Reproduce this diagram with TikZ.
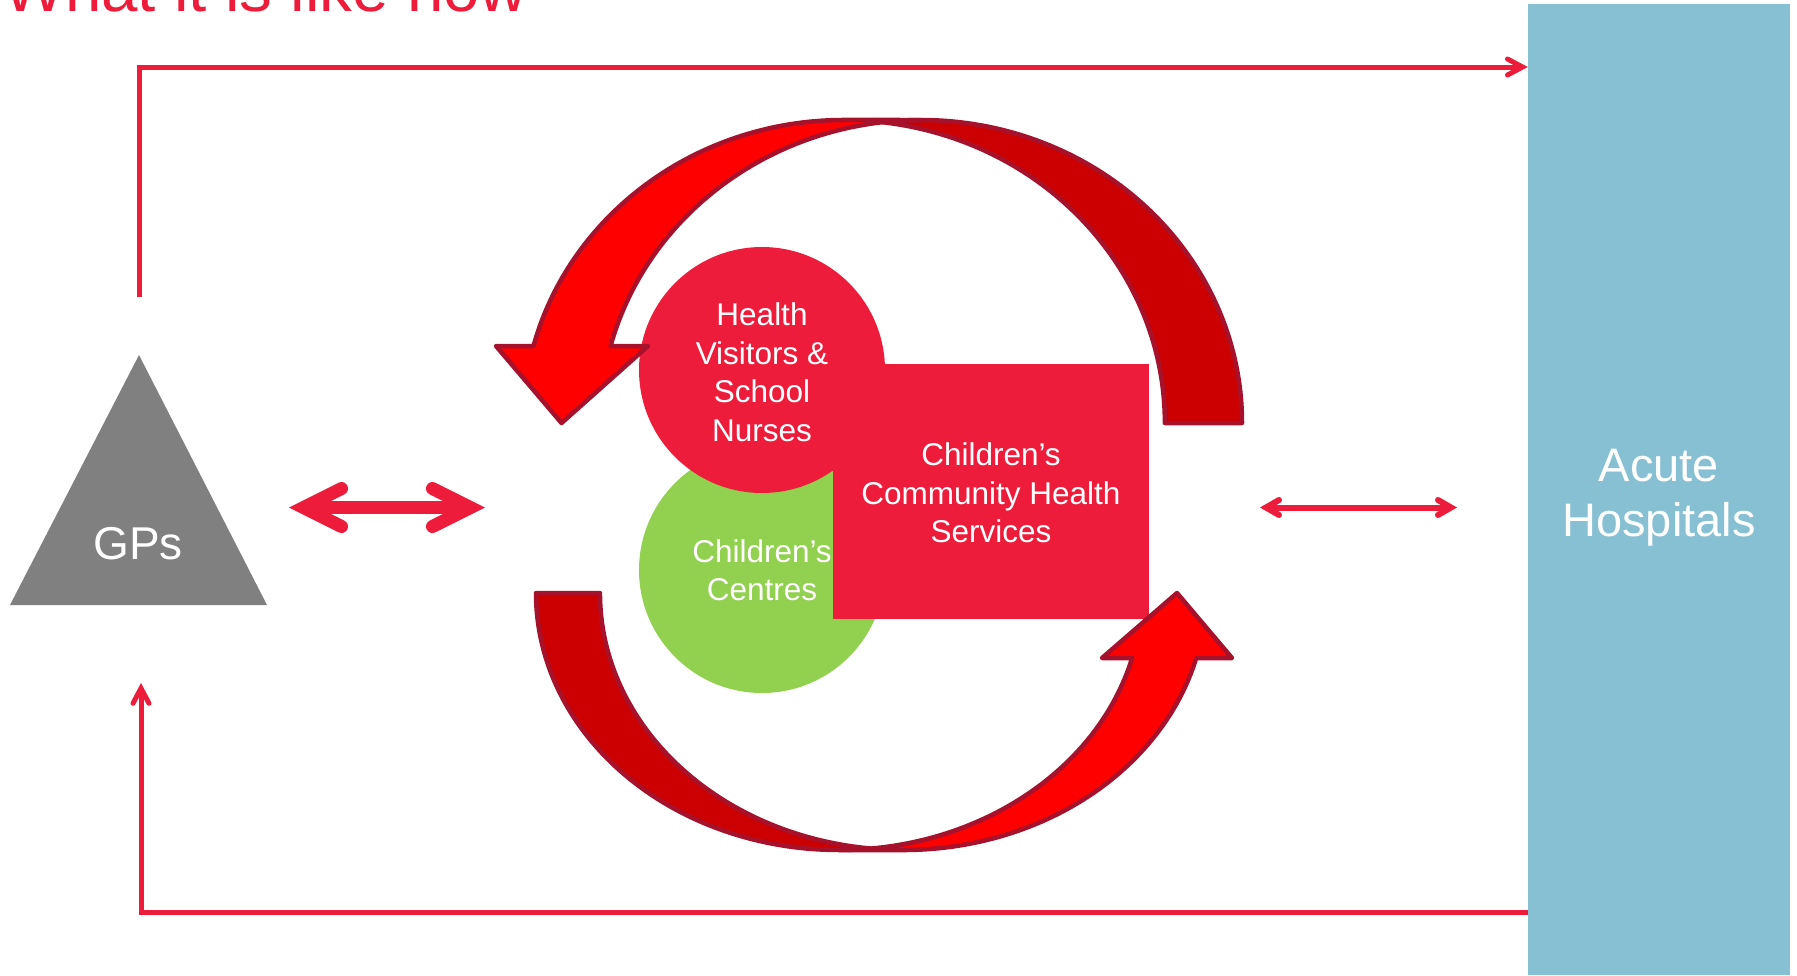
\documentclass[tikz,border=0pt]{standalone}
\usepackage{fontspec}
\setmainfont{Liberation Sans}
\usetikzlibrary{arrows.meta}
\definecolor{cchsred}{RGB}{237,28,58}
\definecolor{ccgreen}{RGB}{146,208,80}
\definecolor{acuteblue}{RGB}{134,192,210}
\definecolor{gpgrey}{RGB}{128,128,128}
\definecolor{loopred}{RGB}{255,0,0}
\definecolor{loopdark}{RGB}{204,0,0}
\definecolor{loopedge}{RGB}{166,18,43}
\tikzstyle{service} = [circle, inner sep=0pt, minimum size=246pt, text=white, align=center, font=\fontsize{31.5}{38.5}\selectfont]
\tikzstyle{cchs} = [rectangle, fill=cchsred, inner sep=0pt, minimum width=316pt, minimum height=255pt, text=white, align=center, font=\fontsize{31.5}{38.5}\selectfont]
\tikzstyle{acute} = [rectangle, fill=acuteblue, inner sep=0pt, minimum width=262pt, minimum height=971pt]
\tikzstyle{bigtext} = [text=white, align=center, inner sep=0pt, font=\fontsize{47}{55}\selectfont]
\tikzstyle{link} = [draw=cchsred, line width=5pt, -{Straight Barb[length=15pt,width=16pt,line cap=round,line join=miter]}]
\tikzstyle{twoway} = [draw=cchsred, line width=6pt, {Straight Barb[length=13pt,width=15pt,line cap=round,line join=miter]}-{Straight Barb[length=13pt,width=15pt,line cap=round,line join=miter]}]
\tikzstyle{bigtwoway} = [draw=cchsred, line width=13pt, {Straight Barb[length=38pt,width=38pt,line cap=round,line join=miter]}-{Straight Barb[length=38pt,width=38pt,line cap=round,line join=miter]}]
\tikzstyle{loopfront} = [fill=loopred, draw=loopedge, line width=4.5pt, line join=round]
\tikzstyle{loopback} = [fill=loopdark, draw=loopedge, line width=4.5pt, line join=round]

\begin{document}
\begin{tikzpicture}[x=1pt,y=-1pt]
  \useasboundingbox (0,0) rectangle (1797,975);
  \node[anchor=base west, inner sep=0pt, text=cchsred, font=\fontsize{65.5}{70}\selectfont] (title) at (3,11) {What it is like now};

  \fill[gpgrey] (139,355) -- (267,605) -- (10,605) -- cycle;
  \node[bigtext, font=\fontsize{46}{55}\selectfont] (gps) at (138,544) {GPs};

  \node[acute] (hosp) at (1659,489.5) {};
  \node[bigtext] (hosptext) at (1659,498) {Acute\\Hospitals};

  \node[service, fill=ccgreen] (cc) at (762,570) {Children’s\\Centres};
  \node[service, fill=cchsred] (hv) at (762,370) {\rule{0pt}{27.6pt}Health\\Visitors \&\\School\\Nurses};
  \node[cchs] (cchs) at (991,491.5) {\rule{0pt}{25.3pt}Children’s\\Community Health\\Services};

  \coordinate (gpup) at (139,297);
  \coordinate (gpdown) at (141,683);
  \coordinate (toprow) at (0,67);
  \coordinate (botrow) at (0,912);
  \coordinate (gpsout) at (289,507.5);
  \coordinate (hvin) at (485,507.5);
  \coordinate (cchsout) at (1260,507.5);
  \coordinate (acutein) at (1457,507.5);

  \draw[link] (gpup) |- (hosp.west |- toprow);
  \draw[link] (hosp.west |- botrow) -| (gpdown);
  \draw[bigtwoway] (gpsout) -- (hvin);
  \draw[twoway] (cchsout) -- (acutein);

  \path[loopback] (1242,423) arc[start angle=0, end angle=-96.9, x radius=321, y radius=303]
    arc[start angle=-83.1, end angle=0, x radius=321, y radius=303] -- cycle;
  \path[loopfront] (561.5,423) -- (496,346) -- (533.5,346)
    arc[start angle=194.72, end angle=270, x radius=321, y radius=303] -- (921,120)
    arc[start angle=270, end angle=194.72, x radius=321, y radius=303] -- (648,346) -- cycle;

  \path[loopback] (536,593) arc[start angle=180, end angle=83.94, x radius=303, y radius=257]
    arc[start angle=96.06, end angle=180, x radius=303, y radius=257] -- cycle;
  \path[loopfront] (1177,593) -- (1232,658) -- (1196.2,658)
    arc[start angle=14.65, end angle=90, x radius=303, y radius=257] -- (839,850)
    arc[start angle=90, end angle=14.65, x radius=303, y radius=257] -- (1102,658) -- cycle;
\end{tikzpicture}
\end{document}
